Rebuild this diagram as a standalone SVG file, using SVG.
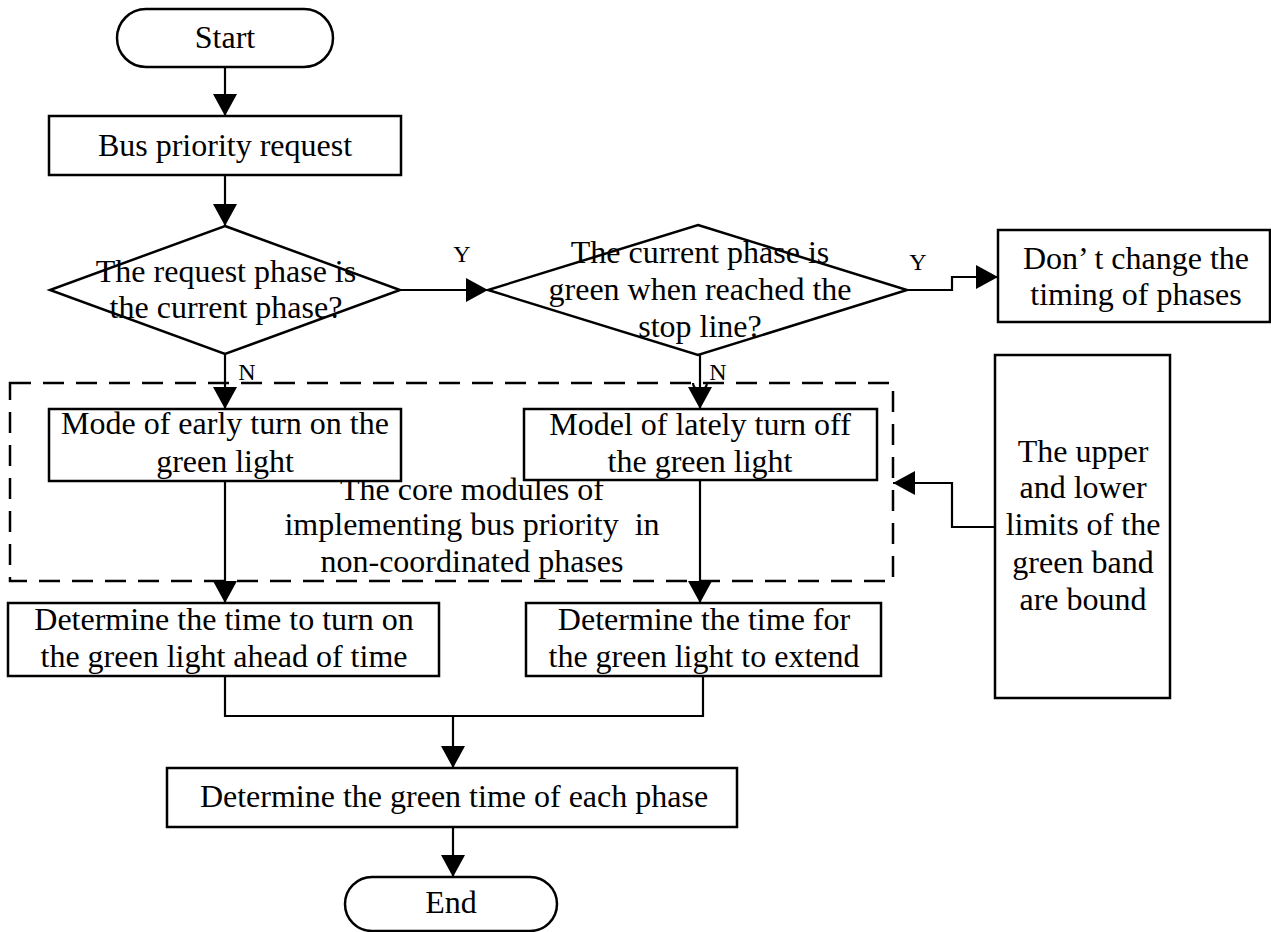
<svg xmlns="http://www.w3.org/2000/svg" width="1271" height="932" viewBox="0 0 1271 932">
<style>
.n{fill:#fff;stroke:#000;stroke-width:2.5}
.t{font-family:"Liberation Serif","Times New Roman",serif;font-size:32px;fill:#000;text-anchor:middle}
.l{font-family:"Liberation Serif","Times New Roman",serif;font-size:24px;fill:#000;text-anchor:middle}
.c{fill:none;stroke:#000;stroke-width:2.2}
.d{fill:none;stroke:#000;stroke-width:2.5;stroke-dasharray:21 12}
</style>
<defs>
<marker id="ah" markerUnits="userSpaceOnUse" markerWidth="24" markerHeight="24" viewBox="0 0 22 24" refX="22" refY="12" orient="auto">
<path d="M0,0 L22,12 L0,24 Z" fill="#000"/>
</marker>
</defs>
<rect width="1271" height="932" fill="#fff"/>

<g id="core-region">
<rect class="d" x="10" y="383" width="883" height="198"/>
<text class="t" x="472" y="500">The core modules of</text>
<text class="t" x="472" y="535" style="white-space:pre">implementing bus priority  in</text>
<text class="t" x="472" y="572">non-coordinated phases</text>
</g>

<g id="connectors">
<path class="c" d="M225,67 V116" marker-end="url(#ah)"/>
<path class="c" d="M225,175 V226" marker-end="url(#ah)"/>
<path class="c" d="M400,290 H488" marker-end="url(#ah)"/>
<path class="c" d="M907,290 H952 V277 H998" marker-end="url(#ah)"/>
<path class="c" d="M225,354 V409" marker-end="url(#ah)"/>
<path class="c" d="M700,355 V409" marker-end="url(#ah)"/>
<path class="c" d="M693,383 A7,7 0 0 0 707,383"/>
<path class="c" d="M225,481 V603" marker-end="url(#ah)"/>
<path class="c" d="M700,480 V603" marker-end="url(#ah)"/>
<path class="c" d="M995,527 H952 V483 H893" marker-end="url(#ah)"/>
<path class="c" d="M225,676 V716 H703 V676"/>
<path class="c" d="M453,716 V768" marker-end="url(#ah)"/>
<path class="c" d="M453,827 V877" marker-end="url(#ah)"/>
<text class="l" x="462" y="262">Y</text>
<text class="l" x="918" y="270">Y</text>
<text class="l" x="247" y="380">N</text>
<text class="l" x="718" y="380">N</text>
</g>

<g id="start">
<rect class="n" x="117" y="9" width="216" height="58" rx="29" ry="29"/>
<text class="t" x="225" y="48">Start</text>
</g>

<g id="bus-request">
<rect class="n" x="49" y="116" width="352" height="59"/>
<text class="t" x="225" y="156">Bus priority request</text>
</g>

<g id="decision-1">
<path class="n" d="M225,226 L400,290 L225,354 L50,290 Z"/>
<text class="t" x="226" y="282">The request phase is</text>
<text class="t" x="226" y="318">the current phase?</text>
</g>

<g id="decision-2">
<path class="n" d="M698,225 L907,290 L698,355 L488,290 Z"/>
<text class="t" x="700" y="263">The current phase is</text>
<text class="t" x="700" y="300">green when reached the</text>
<text class="t" x="700" y="337">stop line?</text>
</g>

<g id="no-change">
<rect class="n" x="998" y="230" width="272" height="92"/>
<text class="t" x="1136" y="269">Don’ t change the</text>
<text class="t" x="1136" y="305">timing of phases</text>
</g>

<g id="early-on">
<rect class="n" x="49" y="409" width="352" height="72"/>
<text class="t" x="225" y="434">Mode of early turn on the</text>
<text class="t" x="225" y="472">green light</text>
</g>

<g id="late-off">
<rect class="n" x="524" y="409" width="353" height="71"/>
<text class="t" x="700" y="435">Model of lately turn off</text>
<text class="t" x="700" y="472">the green light</text>
</g>

<g id="green-band">
<rect class="n" x="995" y="355" width="175" height="343"/>
<text class="t" x="1083" y="462">The upper</text>
<text class="t" x="1083" y="498">and lower</text>
<text class="t" x="1083" y="535">limits of the</text>
<text class="t" x="1083" y="573">green band</text>
<text class="t" x="1083" y="610">are bound</text>
</g>

<g id="time-ahead">
<rect class="n" x="8" y="603" width="431" height="73"/>
<text class="t" x="224" y="630">Determine the time to turn on</text>
<text class="t" x="224" y="667">the green light ahead of time</text>
</g>

<g id="time-extend">
<rect class="n" x="526" y="603" width="355" height="73"/>
<text class="t" x="704" y="630">Determine the time for</text>
<text class="t" x="704" y="667">the green light to extend</text>
</g>

<g id="green-time">
<rect class="n" x="167" y="768" width="570" height="59"/>
<text class="t" x="454" y="807">Determine the green time of each phase</text>
</g>

<g id="end">
<rect class="n" x="345" y="877" width="212" height="54" rx="27" ry="27"/>
<text class="t" x="451" y="913">End</text>
</g>
</svg>
